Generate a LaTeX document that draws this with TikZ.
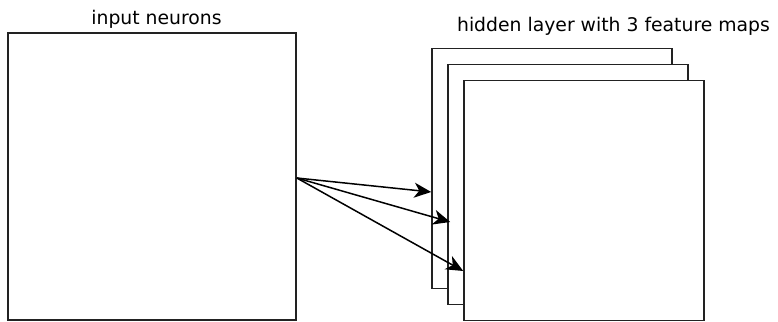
\documentclass[tikz,border=0pt]{standalone}
\usepackage{fontspec}
\setmainfont{DejaVu Sans}
\usetikzlibrary{arrows.meta}
\definecolor{linec}{HTML}{222222}
\begin{document}
\begin{tikzpicture}[x=1pt,y=1pt,
  layerbox/.style={draw=linec, line width=1.6pt, fill=white, minimum width=240pt, minimum height=240pt, inner sep=0pt},
  inbox/.style={draw=linec, line width=1.6pt, fill=white, minimum width=288pt, minimum height=287pt, inner sep=0pt},
  lbl/.style={font=\fontsize{18.8}{22}\selectfont, anchor=base, inner sep=0pt},
  conn/.style={line width=1.5pt, -{Stealth[length=17pt,width=15pt,inset=5pt]}}]
\useasboundingbox (0,0) rectangle (778,321);
\node[inbox] (in) at (152,144.5) {};
\node[layerbox] (h1) at (552,152.5) {};
\node[layerbox] (h2) at (568,136.5) {};
\node[layerbox] (h3) at (584,120.5) {};
\node[lbl] (tin) at (156.5,296) {input neurons};
\node[lbl] (th) at (613.5,289) {hidden layer with 3 feature maps};
\coordinate (src) at ([yshift=-1.5pt]in.east);
\draw[conn] (src) -- ([yshift=-23.5pt]h1.west);
\draw[conn] (src) -- ([xshift=3pt,yshift=-37.5pt]h2.west);
\draw[conn] (src) -- ([yshift=-70.5pt]h3.west);
\end{tikzpicture}
\end{document}
